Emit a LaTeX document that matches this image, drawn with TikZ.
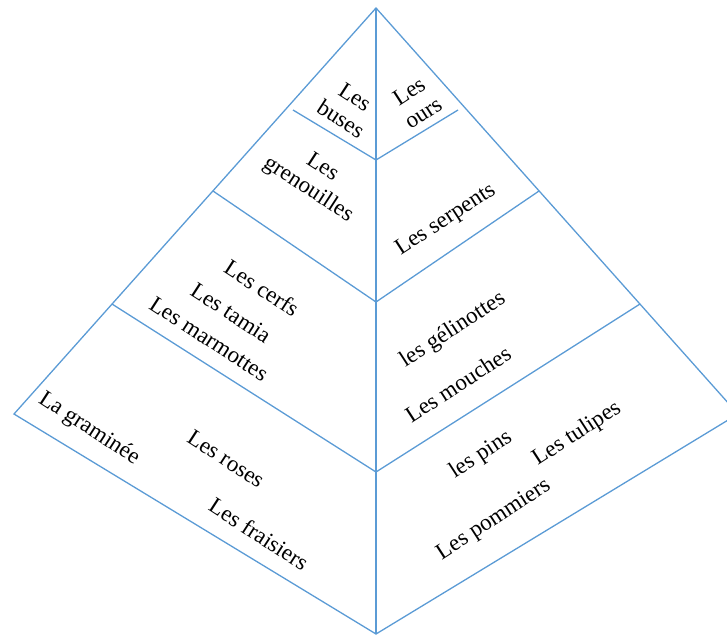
\documentclass[tikz,border=0pt]{standalone}
\usepackage{fontspec}
\setmainfont{Liberation Serif}
\usepackage{tikz}
\usetikzlibrary{positioning}

\definecolor{pyrblue}{RGB}{91,155,213}
\tikzset{
  wall/.style={draw=pyrblue, line width=1.3pt},
  lname/.style={font=\fontsize{23}{26}\selectfont, align=center, inner sep=0pt, rotate=-33},
  rname/.style={font=\fontsize{23}{26}\selectfont, align=center, inner sep=0pt, rotate=33}
}

\begin{document}
\begin{tikzpicture}[x=1pt,y=-1pt]
\useasboundingbox (0,0) rectangle (727,637);
\clip (0,0) rectangle (727,637);
% corners of the pyramid
\coordinate (apex) at (376,8);
\coordinate (left) at (14,414);
\coordinate (bottom) at (376,634);
\coordinate (right) at (738,414);
% levels
\coordinate (l1) at (293,110);
\coordinate (c1) at (376,160);
\coordinate (r1) at (458,110);
\coordinate (l2) at (213,191);
\coordinate (c2) at (376,302);
\coordinate (r2) at (539,191);
\coordinate (l3) at (112,304);
\coordinate (c3) at (376,472);
\coordinate (r3) at (640,304);

\draw[wall] (apex) -- (left) -- (bottom) -- (right) -- cycle;
\draw[wall] (apex) -- (bottom);
\draw[wall] (l1) -- (c1) -- (r1);
\draw[wall] (l2) -- (c2) -- (r2);
\draw[wall] (l3) -- (c3) -- (r3);

% left side
\node[lname] (buses) at (348,108) {Les\\buses};
\node[lname] (grenouilles) at (315,179) {Les\\grenouilles};
\node[lname] (cerfs) at (262,288) {Les cerfs};
\node[lname] (tamia) at (231,313) {Les tamia};
\node[lname] (marmottes) at (209,339) {Les marmottes};
\node[lname] (graminee) at (89,429) {La graminée};
\node[lname] (roses) at (226,459) {Les roses};
\node[lname] (fraisiers) at (259,534) {Les fraisiers};
% right side
\node[rname] (ours) at (416,102) {Les\\ours};
\node[rname] (serpents) at (446,220) {Les serpents};
\node[rname] (gelinottes) at (453,330) {les gélinottes};
\node[rname] (mouches) at (458,384) {Les mouches};
\node[rname] (pins) at (481,455) {les pins};
\node[rname] (tulipes) at (577,434) {Les tulipes};
\node[rname] (pommiers) at (494,520) {Les pommiers};
\end{tikzpicture}
\end{document}
